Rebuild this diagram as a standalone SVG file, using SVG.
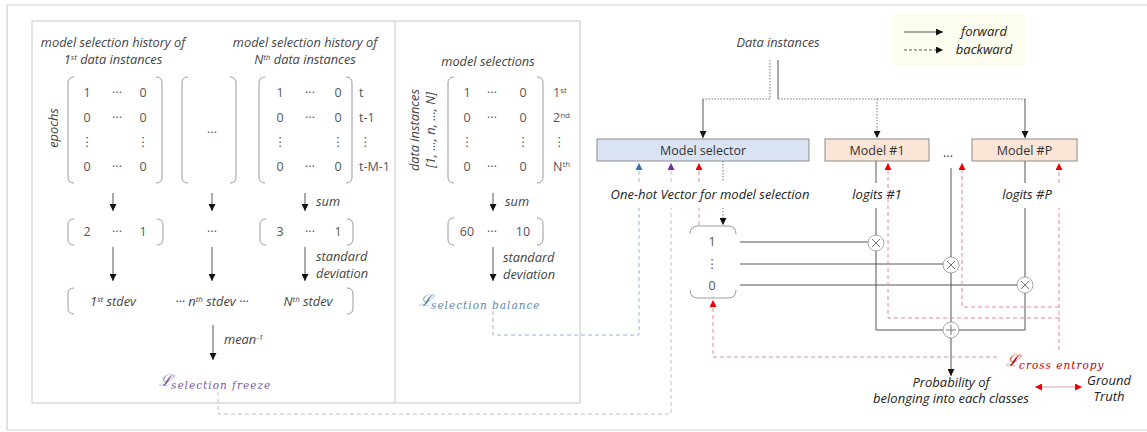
<svg xmlns="http://www.w3.org/2000/svg" width="1147" height="432" viewBox="0 0 1147 432">
<style>
text{font-family:"Open Sans","DejaVu Sans",sans-serif}
.it{font-style:italic;font-size:12.8px;fill:#444}
.n{font-size:12.5px;fill:#555;text-anchor:middle}
.s{font-size:12.5px;fill:#555}
.c{text-anchor:middle}
.lb{font-style:italic;font-size:13px;fill:#222;text-anchor:middle}
.bx{font-size:12.5px;fill:#333;text-anchor:middle}
.par{fill:none;stroke:#9a9a9a;stroke-width:1}
.fr{fill:none;stroke:#cfcfcf;stroke-width:1.2}
.ln{fill:none;stroke:#555;stroke-width:1}
.dot{fill:none;stroke:#777;stroke-width:1;stroke-dasharray:1.5,1.5}
.rd{fill:none;stroke:#dc8f8f;stroke-width:1;stroke-dasharray:4,3}
.bd{fill:none;stroke:#9ab8d6;stroke-width:1;stroke-dasharray:4,3}
.pd{fill:none;stroke:#c4bccb;stroke-width:1;stroke-dasharray:4,3}
.circ{fill:#fff;stroke:#aaa;stroke-width:1}
.sym{stroke:#777;stroke-width:1}
.L{font-family:"DejaVu Serif",serif;font-style:italic}
.sub{font-family:"DejaVu Serif",serif;font-style:italic;font-size:10.5px;letter-spacing:1px}
</style>
<defs>
<marker id="ah" viewBox="0 0 8 8" refX="8" refY="4" markerWidth="7" markerHeight="7" markerUnits="userSpaceOnUse" orient="auto"><path d="M0,0 L8,4 L0,8 z" fill="#111"/></marker>
<marker id="ahB" viewBox="0 0 8 8" refX="8" refY="4" markerWidth="7" markerHeight="7" markerUnits="userSpaceOnUse" orient="auto"><path d="M0,0 L8,4 L0,8 z" fill="#2e75b6"/></marker>
<marker id="ahP" viewBox="0 0 8 8" refX="8" refY="4" markerWidth="7" markerHeight="7" markerUnits="userSpaceOnUse" orient="auto"><path d="M0,0 L8,4 L0,8 z" fill="#7030a0"/></marker>
<marker id="ahR" viewBox="0 0 8 8" refX="8" refY="4" markerWidth="7" markerHeight="7" markerUnits="userSpaceOnUse" orient="auto-start-reverse"><path d="M0,0 L8,4 L0,8 z" fill="#f00000"/></marker>
</defs>
<rect width="1147" height="432" fill="#fff"/>
<path class="fr" d="M1147,5 L7,5 L7,430 L1147,430"/>
<g id="panels">
<rect class="fr" x="32" y="21" width="548" height="382"/>
<line class="fr" x1="395" y1="21" x2="395" y2="403"/>
</g>

<g id="history-1">
<text class="it c" x="113" y="47">model selection history of</text>
<text class="it c" x="113" y="64">1<tspan font-size="8" dy="-4">st</tspan><tspan dy="4"> data instances</tspan></text>
<text class="it c" x="58" y="128" transform="rotate(-90 58 128)">epochs</text>
<path class="par" d="M74,77 Q68,77 68,83 L68,177 Q68,183 74,183 M156,77 Q162,77 162,83 L162,177 Q162,183 156,183"/>
<text class="n" x="87" y="97">1</text><text class="n" x="117" y="97">···</text><text class="n" x="143" y="97">0</text>
<text class="n" x="87" y="122">0</text><text class="n" x="117" y="122">···</text><text class="n" x="143" y="122">0</text>
<text class="n" x="87" y="146">⋮</text><text class="n" x="143" y="146">⋮</text>
<text class="n" x="87" y="171">0</text><text class="n" x="117" y="171">···</text><text class="n" x="143" y="171">0</text>
</g>
<g id="history-mid">
<path class="par" d="M188,77 Q182,77 182,83 L182,177 Q182,183 188,183 M230,77 Q236,77 236,83 L236,177 Q236,183 230,183"/>
<text class="n" x="212" y="137" font-size="14">···</text>
</g>
<g id="history-N">
<text class="it c" x="305" y="47">model selection history of</text>
<text class="it c" x="305" y="64">N<tspan font-size="8" dy="-4">th</tspan><tspan dy="4"> data instances</tspan></text>
<path class="par" d="M265,77 Q259,77 259,83 L259,177 Q259,183 265,183 M346,77 Q352,77 352,83 L352,177 Q352,183 346,183"/>
<text class="n" x="280" y="97">1</text><text class="n" x="310" y="97">···</text><text class="n" x="338" y="97">0</text>
<text class="n" x="280" y="122">0</text><text class="n" x="310" y="122">···</text><text class="n" x="338" y="122">0</text>
<text class="n" x="280" y="146">⋮</text><text class="n" x="338" y="146">⋮</text>
<text class="n" x="280" y="171">0</text><text class="n" x="310" y="171">···</text><text class="n" x="338" y="171">0</text>
<text class="s" x="359" y="97">t</text>
<text class="s" x="359" y="122">t-1</text>
<text class="s" x="359" y="146">⋮</text>
<text class="s" x="359" y="171">t-M-1</text>
</g>
<g id="sums">
<path class="par" d="M74,219 Q68,219 68,225 L68,239 Q68,245 74,245 M157,219 Q163,219 163,225 L163,239 Q163,245 157,245"/>
<text class="n" x="87" y="236">2</text><text class="n" x="117" y="236">···</text><text class="n" x="143" y="236">1</text>
<text class="n" x="212" y="236" font-size="14">···</text>
<path class="par" d="M266,219 Q260,219 260,225 L260,239 Q260,245 266,245 M347,219 Q353,219 353,225 L353,239 Q353,245 347,245"/>
<text class="n" x="280" y="236">3</text><text class="n" x="310" y="236">···</text><text class="n" x="338" y="236">1</text>
</g>
<g id="stdevs">
<path class="par" d="M74,288 Q68,288 68,294 L68,308 Q68,314 74,314 M347,288 Q353,288 353,294 L353,308 Q353,314 347,314"/>
<text class="it c" x="113" y="306">1<tspan font-size="8" dy="-4">st</tspan><tspan dy="4"> stdev</tspan></text>
<text class="it c" x="212" y="306">···  n<tspan font-size="8" dy="-4">th</tspan><tspan dy="4"> stdev  ···</tspan></text>
<text class="it c" x="308" y="306">N<tspan font-size="8" dy="-4">th</tspan><tspan dy="4"> stdev</tspan></text>
</g>
<g id="loss-freeze">
<text class="L" x="159" y="386" font-size="16" fill="#7b5aa6">ℒ</text>
<text class="sub" x="171" y="389" fill="#7b5aa6">selection freeze</text>
</g>

<g id="selections">
<text class="it c" x="488" y="66">model selections</text>
<text class="it c" x="419" y="130" transform="rotate(-90 419 130)" font-size="12">data instances</text>
<text class="it c" x="435" y="130" transform="rotate(-90 435 130)" font-size="12">[1, ..., n, ..., N]</text>
<path class="par" d="M454,77 Q448,77 448,83 L448,177 Q448,183 454,183 M537,77 Q543,77 543,83 L543,177 Q543,183 537,183"/>
<text class="n" x="467" y="97">1</text><text class="n" x="492" y="97">···</text><text class="n" x="523" y="97">0</text>
<text class="n" x="467" y="122">0</text><text class="n" x="492" y="122">···</text><text class="n" x="523" y="122">0</text>
<text class="n" x="467" y="146">⋮</text><text class="n" x="523" y="146">⋮</text>
<text class="n" x="467" y="171">0</text><text class="n" x="492" y="171">···</text><text class="n" x="523" y="171">0</text>
<text class="s" x="553" y="97">1<tspan font-size="8" dy="-4">st</tspan></text>
<text class="s" x="553" y="122">2<tspan font-size="8" dy="-4">nd</tspan></text>
<text class="s" x="553" y="146">⋮</text>
<text class="s" x="553" y="171">N<tspan font-size="8" dy="-4">th</tspan></text>
</g>
<g id="selection-sum">
<path class="par" d="M454,218 Q448,218 448,224 L448,239 Q448,245 454,245 M537,218 Q543,218 543,224 L543,239 Q543,245 537,245"/>
<text class="n" x="467" y="236">60</text><text class="n" x="492" y="236">···</text><text class="n" x="523" y="236">10</text>
</g>
<g id="loss-balance">
<text class="L" x="419" y="306" font-size="16" fill="#5a87b4">ℒ</text>
<text class="sub" x="431" y="309" fill="#5a87b4">selection balance</text>
</g>

<g id="legend">
<rect x="892" y="14" width="133" height="52" fill="#fcfdee"/>
<line class="ln" x1="904" y1="32" x2="943" y2="32" stroke="#222" marker-end="url(#ah)"/>
<line class="ln" x1="904" y1="50" x2="943" y2="50" stroke="#222" stroke-dasharray="3,2" marker-end="url(#ah)"/>
<text class="lb" x="984" y="36" font-size="12">forward</text>
<text class="lb" x="984" y="54" font-size="12">backward</text>
</g>
<g id="data-instances">
<text class="it c" x="778" y="47" font-size="12">Data instances</text>
</g>
<g id="model-selector">
<rect x="597" y="139" width="212" height="22" fill="#dae3f3" stroke="#8c8c8c"/>
<text class="bx" x="703" y="155">Model selector</text>
</g>
<g id="model-1">
<rect x="825" y="139" width="104" height="22" fill="#fbe5d6" stroke="#8c8c8c"/>
<text class="bx" x="877" y="155">Model #1</text>
</g>
<g id="model-dots"><text class="bx" x="948" y="157">...</text></g>
<g id="model-P">
<rect x="972" y="139" width="105" height="22" fill="#fbe5d6" stroke="#8c8c8c"/>
<text class="bx" x="1024.5" y="155">Model #P</text>
</g>
<g id="labels">
<text class="lb" x="710" y="199">One-hot Vector for model selection</text>
<text class="lb" x="877" y="199">logits #1</text>
<text class="lb" x="1027" y="199">logits #P</text>
</g>
<g id="onehot">
<path class="par" stroke="#666" d="M690,234 Q690,226 698,226 L728,226 Q736,226 736,234 M690,290 Q690,298 698,298 L728,298 Q736,298 736,290"/>
<text class="n" x="712" y="246">1</text>
<text class="n" x="712" y="268">⋮</text>
<text class="n" x="712" y="290">0</text>
</g>
<g id="ops">
<circle class="circ" cx="876" cy="243" r="8"/>
<path class="sym" d="M872,239 L880,247 M880,239 L872,247"/>
<circle class="circ" cx="951" cy="265" r="8"/>
<path class="sym" stroke="#333" d="M947,261 L955,269 M955,261 L947,269"/>
<circle class="circ" cx="1025" cy="285" r="8"/>
<path class="sym" d="M1021,281 L1029,289 M1029,281 L1021,289"/>
<circle class="circ" cx="951" cy="330" r="8"/>
<path class="sym" d="M951,325 L951,335 M946,330 L956,330"/>
</g>
<g id="probability">
<text class="lb" x="951" y="387" font-size="12" fill="#333">Probability of</text>
<text class="lb" x="951" y="403" font-size="12" fill="#333">belonging into each classes</text>
</g>
<g id="ground-truth">
<text class="lb" x="1109" y="385" font-size="12" fill="#333">Ground</text>
<text class="lb" x="1109" y="401" font-size="12" fill="#333">Truth</text>
</g>
<g id="loss-ce">
<text class="L" x="1006" y="366" font-size="16" fill="#c00000">ℒ</text>
<text class="sub" x="1019" y="369" fill="#c00000">cross entropy</text>
</g>

<g id="connectors">
<line class="ln" x1="113" y1="193" x2="113" y2="211" marker-end="url(#ah)"/>
<line class="ln" x1="212" y1="193" x2="212" y2="211" marker-end="url(#ah)"/>
<line class="ln" x1="305" y1="193" x2="305" y2="211" marker-end="url(#ah)"/>
<text class="it" x="316" y="206">sum</text>
<line class="ln" x1="113" y1="247" x2="113" y2="281" marker-end="url(#ah)"/>
<line class="ln" x1="212" y1="247" x2="212" y2="281" marker-end="url(#ah)"/>
<line class="ln" x1="305" y1="247" x2="305" y2="281" marker-end="url(#ah)"/>
<text class="it" x="316" y="261">standard</text>
<text class="it" x="316" y="278">deviation</text>
<line class="ln" x1="213" y1="325" x2="213" y2="360" marker-end="url(#ah)"/>
<text class="it" x="224" y="344">mean<tspan font-size="8" dy="-4">-1</tspan></text>
<line class="ln" x1="493" y1="193" x2="493" y2="211" marker-end="url(#ah)"/>
<text class="it" x="505" y="206">sum</text>
<line class="ln" x1="493" y1="247" x2="493" y2="281" marker-end="url(#ah)"/>
<text class="it" x="503" y="262">standard</text>
<text class="it" x="503" y="279">deviation</text>
<path class="bd" d="M493,311 L493,335 L639,335 L639,208"/>
<path class="bd" d="M639,182 L639,163" marker-end="url(#ahB)"/>
<path class="pd" d="M218,392 L218,414 L671,414 L671,208"/>
<path class="pd" d="M671,182 L671,163" marker-end="url(#ahP)"/>
<path class="dot" d="M770,60 L770,99 L703,99"/>
<path class="ln" stroke="#666" d="M703,99 L703,138" marker-end="url(#ah)"/>
<path class="ln" stroke="#666" d="M778,60 L778,99"/>
<path class="dot" d="M778,99 L1025,99"/>
<path class="dot" d="M877,99 L877,138" marker-end="url(#ah)"/>
<path class="ln" stroke="#666" d="M1025,99 L1025,138" marker-end="url(#ah)"/>
<path class="dot" d="M723,161 L723,182"/>
<path class="dot" d="M723,208 L723,225" marker-end="url(#ah)"/>
<path class="ln" stroke="#777" d="M740,242 L868,242 M740,264 L943,264 M740,285 L1017,285"/>
<path class="ln" stroke="#777" d="M876,161 L876,183 M876,208 L876,235 M876,251 L876,330 L943,330"/>
<path class="ln" stroke="#777" d="M951,168 L951,257 M951,273 L951,322"/>
<path class="ln" d="M951,338 L951,376" marker-end="url(#ah)"/>
<path class="ln" stroke="#777" d="M1025,161 L1025,183 M1025,208 L1025,277 M1025,293 L1025,330 L959,330"/>
<path class="rd" d="M1059,350 L1059,208"/>
<path class="rd" stroke="#e6c4c4" d="M1059,183 L1059,163" marker-end="url(#ahR)"/>
<path class="rd" d="M1059,318 L888,318 L888,163" marker-end="url(#ahR)"/>
<path class="rd" d="M1059,307 L962,307 L962,163" marker-end="url(#ahR)"/>
<path class="rd" d="M997,357 L713,357 L713,300" marker-end="url(#ahR)"/>
<path class="rd" d="M699,225 L699,208"/>
<path class="rd" d="M699,182 L699,163" marker-end="url(#ahR)"/>
<line x1="1035" y1="387" x2="1082" y2="387" stroke="#e4a0a0" stroke-width="1" marker-start="url(#ahR)" marker-end="url(#ahR)"/>
</g>
</svg>
